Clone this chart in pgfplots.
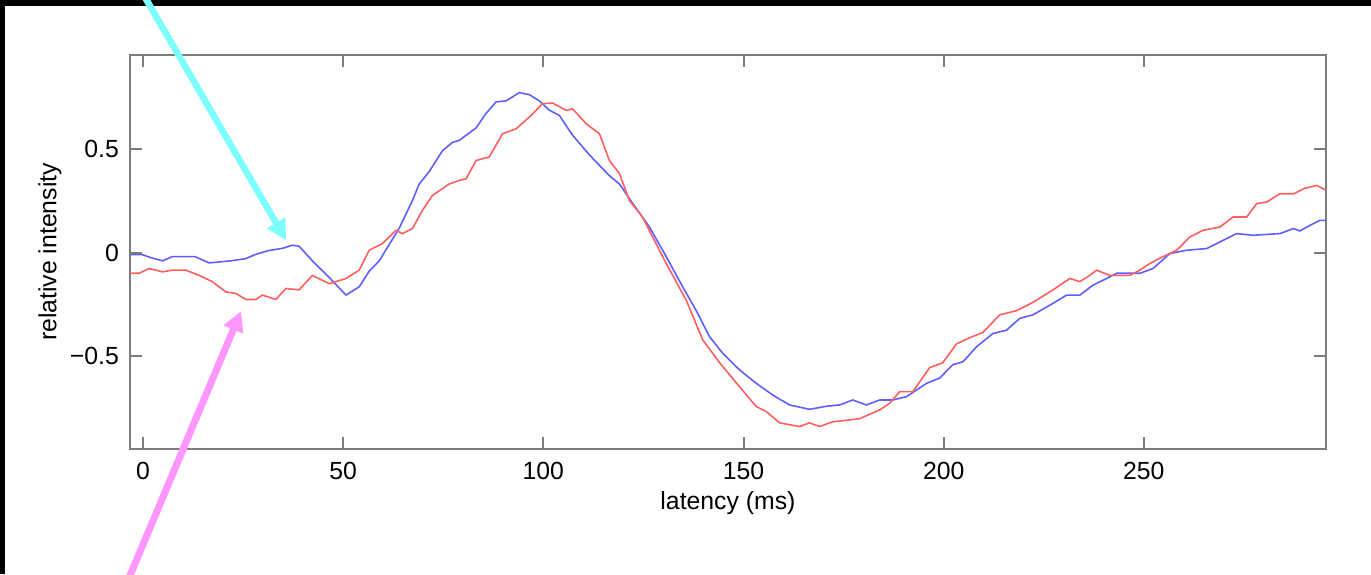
\documentclass[border=0pt]{standalone}
\usepackage{pgfplots}
\pgfplotsset{compat=1.18}
\usepackage{fontspec}
\setmainfont{Liberation Sans}
\usetikzlibrary{arrows.meta}
\definecolor{bl}{RGB}{95,95,255}
\definecolor{rd}{RGB}{255,95,95}
\definecolor{axgray}{RGB}{125,125,125}
\definecolor{cyanarrow}{RGB}{125,255,255}
\definecolor{pinkarrow}{RGB}{255,150,255}
\begin{document}
\begin{tikzpicture}
\useasboundingbox (-65pt,-62.5pt) rectangle (620.5pt,224.5pt);
\fill[black] (-65pt,-62.5pt) rectangle (620.5pt,224.5pt);
\fill[white] (-62.5pt,-62.5pt) rectangle (620.5pt,221.5pt);
\begin{axis}[
  scale only axis,
  width=598pt, height=197pt,
  xmin=-3.25, xmax=295.5,
  ymin=-0.946, ymax=0.951,
  xtick={0,50,100,150,200,250},
  xticklabels={0,50,100,150,200,250},
  ytick={-0.5,0,0.5},
  yticklabels={−0.5,0,0.5},
  tick align=inside,
  major tick length=6pt,
  axis line style={axgray, line width=1pt},
  every tick/.style={axgray, line width=1pt},
  font=\fontsize{12.4}{14}\selectfont,
  xticklabel style={yshift=-3pt},
  yticklabel style={xshift=-2pt},
  xlabel={latency (ms)},
  ylabel={relative intensity},
  xlabel style={at={(axis description cs:0.5,-0.137)}, anchor=center},
  ylabel style={at={(axis description cs:-0.067,0.5)}, anchor=center, rotate=0},
]
\addplot[bl, line width=0.8pt] table {
x y
-3.25 -0.01
-0.2 -0.01
2 -0.025
4.9 -0.04
7.3 -0.02
13 -0.02
16.5 -0.05
22 -0.04
25.6 -0.03
28 -0.01
31.5 0.01
34.8 0.02
37.3 0.035
39 0.03
42.3 -0.04
46.5 -0.12
50.7 -0.205
54 -0.165
56.5 -0.09
59 -0.04
64 0.117
67.3 0.25
69 0.33
71.5 0.39
74.8 0.49
77.3 0.53
79 0.54
83.2 0.60
85.7 0.67
88.2 0.725
90.7 0.73
94 0.77
96.5 0.76
99 0.73
101.5 0.685
104 0.66
107.3 0.565
111.5 0.47
114 0.42
116.5 0.37
119 0.33
122.3 0.237
126.5 0.123
130.7 -0.02
134.8 -0.165
138.2 -0.28
141.5 -0.405
144.8 -0.485
149 -0.565
153.2 -0.63
157.3 -0.686
161.5 -0.734
166.5 -0.755
170.7 -0.74
174 -0.734
177.3 -0.71
180.7 -0.734
184 -0.71
187.3 -0.71
190.7 -0.694
195.7 -0.63
199 -0.604
202.3 -0.54
204.8 -0.526
208.2 -0.454
212.3 -0.39
215.7 -0.374
219 -0.317
222.3 -0.30
227.3 -0.245
230.7 -0.205
234 -0.205
237.3 -0.157
240.7 -0.125
243.2 -0.10
249 -0.10
252.3 -0.077
256.5 -0.005
260.7 0.011
265.7 0.019
269 0.051
273.2 0.091
277.3 0.083
284 0.091
287.3 0.115
289 0.104
291.5 0.131
294 0.155
295.5 0.155
};
\addplot[rd, line width=0.8pt] table {
x y
-3.25 -0.10
-1 -0.10
1.5 -0.077
4.9 -0.093
7.3 -0.085
10.7 -0.085
14 -0.11
17.3 -0.14
20.7 -0.19
23.2 -0.197
25.7 -0.226
28.2 -0.226
29.8 -0.205
33.2 -0.226
35.7 -0.173
39 -0.18
42.3 -0.11
46.5 -0.15
50.7 -0.125
54 -0.085
56.5 0.011
59.8 0.043
63.2 0.107
64.8 0.091
67.3 0.115
69.8 0.203
72.3 0.275
76.5 0.33
79 0.347
80.7 0.355
83.2 0.443
86.5 0.46
89.8 0.572
93.2 0.596
96.5 0.652
99.8 0.716
102.3 0.72
105.7 0.684
107.3 0.692
110.7 0.62
114 0.572
116.5 0.443
119 0.38
121.5 0.25
124.8 0.17
127.3 0.075
130.7 -0.053
135.7 -0.23
139.8 -0.42
144 -0.53
149 -0.646
153.2 -0.742
155.7 -0.766
159 -0.82
164 -0.838
166.5 -0.82
169 -0.838
172.3 -0.815
176.5 -0.806
179 -0.80
184 -0.758
186.5 -0.726
189 -0.67
192.3 -0.67
196.5 -0.554
199.8 -0.53
203.2 -0.44
206.5 -0.41
209.8 -0.385
214 -0.30
218.2 -0.28
222.3 -0.24
227.3 -0.18
231.5 -0.125
234 -0.14
236.5 -0.11
238.2 -0.085
241.5 -0.11
246.5 -0.11
249 -0.085
251.5 -0.053
254.8 -0.02
258.2 0.011
261.5 0.075
264.8 0.107
269 0.123
272.3 0.171
275.7 0.171
278.2 0.236
280.7 0.243
284 0.283
287.5 0.283
290 0.308
293.2 0.323
295.5 0.30
};
\coordinate (cs) at (axis cs:-2.5,1.328);
\coordinate (ct) at (axis cs:35.75,0.059);
\coordinate (ps) at (axis cs:-5.75,-1.67);
\coordinate (pt) at (axis cs:24.5,-0.282);
\end{axis}
\draw[cyanarrow, line width=3.3pt, -{Triangle[length=10pt,width=10pt]}] (cs) -- (ct);
\draw[pinkarrow, line width=3.5pt, -{Triangle[length=10pt,width=10pt]}] (ps) -- (pt);
\end{tikzpicture}
\end{document}
